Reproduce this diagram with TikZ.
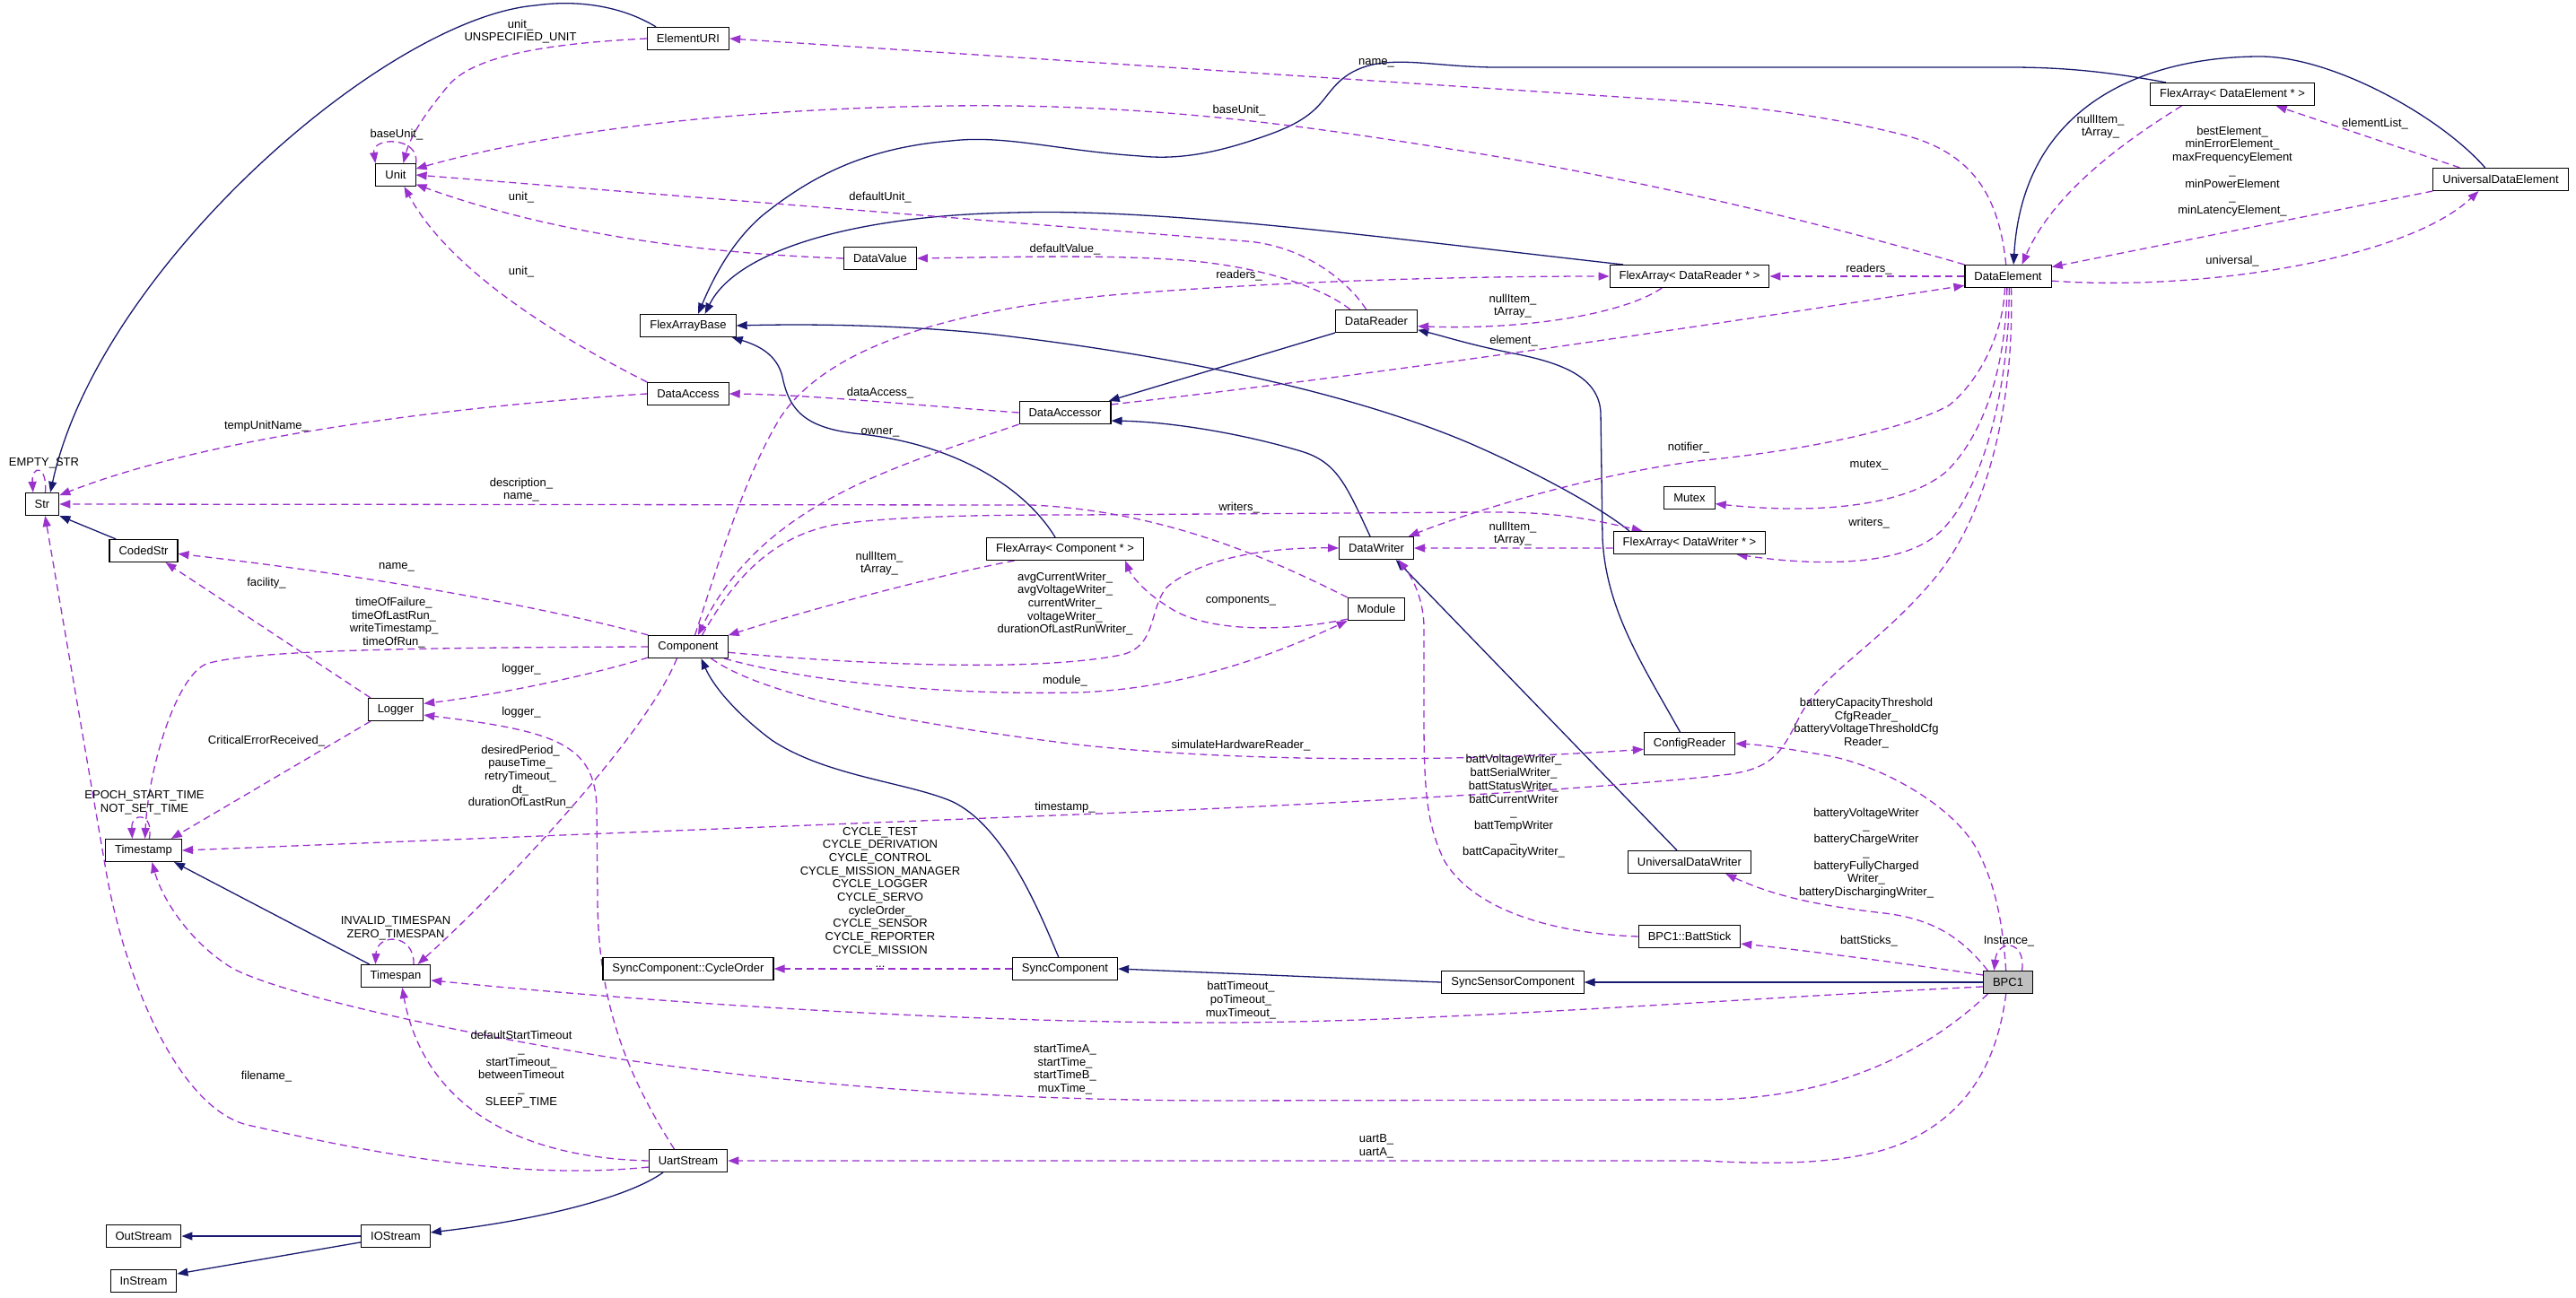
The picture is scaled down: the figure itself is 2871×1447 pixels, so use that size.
\documentclass[tikz,border=0pt]{standalone}
\usepackage{fontspec}
\setmainfont{Liberation Sans}
\usetikzlibrary{arrows.meta}
\definecolor{midnight}{HTML}{191970}
\definecolor{purp}{HTML}{9A32CD}
\definecolor{bpcgray}{HTML}{BFBFBF}
\pgfdeclarelayer{bg}
\pgfsetlayers{bg,main}
\newcommand\lblfont{\fontsize{13}{14.7}\selectfont}
\begin{document}
\begin{tikzpicture}[x=1pt,y=-1pt,
 cls/.style={draw=black,line width=1.1pt,fill=white,minimum height=25pt,inner xsep=10.5pt,inner ysep=0pt,font=\lblfont},
 lab/.style={font=\lblfont,align=center,inner sep=0pt},
 inh/.style={draw=midnight,line width=1.3pt,-{Triangle[length=12pt,width=9pt]}},
 dep/.style={draw=purp,line width=1.3pt,dash pattern=on 8pt off 5pt,-{Triangle[length=12pt,width=9pt]}}]
\useasboundingbox (0,0) rectangle (2871,1447);
\begin{pgfonlayer}{bg}
\fill[white] (0,0) rectangle (2871,1447);
\end{pgfonlayer}
% ---------- nodes ----------
\node[cls] (ElementURI) at (767,43) {ElementURI};
\node[cls] (Unit) at (441,195) {Unit};
\node[cls] (FAB) at (767,363) {FlexArrayBase};
\node[cls] (DataAccess) at (767,439) {DataAccess};
\node[cls] (Str) at (47,562) {Str};
\node[cls] (CodedStr) at (160,614) {CodedStr};
\node[cls] (Component) at (767,721) {Component};
\node[cls] (Logger) at (441,791) {Logger};
\node[cls] (Timestamp) at (160,948) {Timestamp};
\node[cls] (Timespan) at (441,1088) {Timespan};
\node[cls] (CycleOrder) at (767,1080) {SyncComponent::CycleOrder};
\node[cls] (UartStream) at (767,1294) {UartStream};
\node[cls] (OutStream) at (160,1378) {OutStream};
\node[cls] (IOStream) at (441,1378) {IOStream};
\node[cls] (InStream) at (160,1428) {InStream};
\node[cls] (DataValue) at (981,288) {DataValue};
\node[cls] (FADR) at (1883,308) {FlexArray< DataReader * >};
\node[cls] (DataReader) at (1534,358) {DataReader};
\node[cls] (DataAccessor) at (1187,460) {DataAccessor};
\node[cls] (FAC) at (1187,612) {FlexArray< Component * >};
\node[cls] (DataWriter) at (1534,611) {DataWriter};
\node[cls] (Mutex) at (1883,555) {Mutex};
\node[cls] (FADW) at (1883,605) {FlexArray< DataWriter * >};
\node[cls] (Module) at (1534,679) {Module};
\node[cls] (ConfigReader) at (1883,829) {ConfigReader};
\node[cls] (UDW) at (1883,961) {UniversalDataWriter};
\node[cls] (BattStick) at (1883,1044) {BPC1::BattStick};
\node[cls] (SyncComponent) at (1187,1080) {SyncComponent};
\node[cls] (SSC) at (1686,1095) {SyncSensorComponent};
\node[cls] (FADE) at (2488,105) {FlexArray< DataElement * >};
\node[cls] (UDE) at (2787,200) {UniversalDataElement};
\node[cls] (DataElement) at (2238,308) {DataElement};
\node[cls,fill=bpcgray] (BPC1) at (2238,1095) {BPC1};
% ---------- edges ----------
\begin{pgfonlayer}{bg}
% inheritance
\draw[inh] (ElementURI.160) .. controls (690,5) and (640,0) .. (597,6) .. controls (430,20) and (110,300) .. (Str.55);
\draw[inh] (CodedStr.157) -- (Str.south east);
\draw[inh] (FADR.170) .. controls (1550,266) and (1300,232) .. (1131,237) .. controls (950,240) and (820,280) .. (FAB.35);
\draw[inh] (FADE.170) .. controls (2350,80) and (2300,75) .. (2240,75) -- (1680,75) .. controls (1610,76) and (1570,64) .. (1530,72) .. controls (1495,80) and (1485,100) .. (1472,115) .. controls (1455,135) and (1430,145) .. (1400,155) .. controls (1350,172) and (1310,178) .. (1271,174) .. controls (1180,168) and (1120,150) .. (1060,157) .. controls (960,165) and (900,200) .. (850,240) .. controls (815,270) and (795,310) .. (FAB.50);
\draw[inh] (FADW.169) .. controls (1790,570) and (1720,530) .. (1640,495) .. controls (1500,435) and (1300,395) .. (1100,372) .. controls (1000,362) and (900,361) .. (FAB.east);
\draw[inh] (FAC.130) .. controls (1140,540) and (1060,495) .. (960,484) .. controls (900,478) and (880,460) .. (872,420) .. controls (866,395) and (845,385) .. (FAB.-15);
\draw[inh] (DataReader.south west) -- (DataAccessor.15);
\draw[inh] (DataWriter.118) .. controls (1500,540) and (1490,515) .. (1450,503) .. controls (1380,482) and (1300,470) .. (DataAccessor.-10);
\draw[inh] (ConfigReader.129) .. controls (1830,740) and (1790,680) .. (1786,600) -- (1784,460) .. controls (1782,420) and (1740,405) .. (1692,395) .. controls (1640,385) and (1610,375) .. (DataReader.-12);
\draw[inh] (UDW.137) -- (DataWriter.-31);
\draw[inh] (UDE.143) .. controls (2720,130) and (2600,63) .. (2519,63) .. controls (2400,63) and (2255,110) .. (DataElement.65);
\draw[inh] (SyncComponent.119) .. controls (1160,1020) and (1120,920) .. (1060,893) .. controls (1010,872) and (920,865) .. (860,825) .. controls (820,795) and (795,765) .. (Component.-42);
\draw[inh] (SSC.west) -- (SyncComponent.east);
\draw[inh] (BPC1.west) -- (SSC.east);
\draw[inh] (Timespan.156) -- (Timestamp.-21);
\draw[inh] (UartStream.205) .. controls (700,1335) and (600,1360) .. (IOStream.6);
\draw[inh] (IOStream.west) -- (OutStream.east);
\draw[inh] (IOStream.190) -- (InStream.12);
% usage
\draw[dep] (ElementURI.west) .. controls (620,48) and (530,60) .. (500,95) .. controls (475,125) and (458,150) .. (Unit.57);
\draw[dep] (Unit.north east) .. controls (468,152) and (414,152) .. (Unit.north west);
\draw[dep] (DataElement.165) .. controls (2000,240) and (1800,195) .. (1622,167) .. controls (1480,145) and (1300,115) .. (1060,118) .. controls (800,121) and (600,150) .. (Unit.17);
\draw[dep] (DataReader.131) .. controls (1500,310) and (1450,274) .. (1390,269) -- (Unit.east);
\draw[dep] (DataValue.west) .. controls (760,282) and (600,255) .. (Unit.-25);
\draw[dep] (DataAccess.north west) .. controls (620,375) and (500,300) .. (Unit.-54);
\draw[dep] (DataAccess.west) .. controls (550,450) and (250,480) .. (Str.27);
\draw[dep] (Str.75) .. controls (53,518) and (35,518) .. (Str.128);
\draw[dep] (Module.north west) .. controls (1420,625) and (1300,570) .. (1150,563) -- (Str.east);
\draw[dep] (Component.north west) .. controls (600,675) and (400,640) .. (CodedStr.-5);
\draw[dep] (Logger.155) -- (CodedStr.-28);
\draw[dep] (Component.west) .. controls (450,722) and (280,725) .. (230,740) .. controls (195,755) and (165,860) .. (Timestamp.83);
\draw[dep] (Timestamp.64) .. controls (172,905) and (146,905) .. (Timestamp.134);
\draw[dep] (Component.195) .. controls (650,755) and (550,775) .. (Logger.12);
\draw[dep] (UartStream.140) .. controls (700,1200) and (666,1120) .. (666,1000) -- (665,900) .. controls (663,830) and (620,815) .. (Logger.-11);
\draw[dep] (Logger.205) -- (Timestamp.23);
\draw[dep] (Component.226) .. controls (720,820) and (560,990) .. (Timespan.28);
\draw[dep] (Timespan.33) .. controls (462,1040) and (420,1040) .. (Timespan.150);
\draw[dep] (BPC1.190) .. controls (1900,1115) and (1600,1140) .. (1350,1140) .. controls (1050,1140) and (700,1115) .. (Timespan.-7);
\draw[dep] (BPC1.210) .. controls (2150,1170) and (2050,1225) .. (1900,1226) -- (1350,1227) .. controls (1100,1226) and (900,1210) .. (700,1182) .. controls (500,1150) and (320,1110) .. (260,1080) .. controls (210,1050) and (180,1000) .. (Timestamp.-54);
\draw[dep] (BPC1.260) .. controls (2225,1190) and (2190,1240) .. (2130,1270) .. controls (2080,1295) and (2000,1300) .. (1900,1294) -- (UartStream.east);
\draw[dep] (UartStream.189) .. controls (560,1318) and (380,1277) .. (280,1255) .. controls (200,1240) and (138.5,1090) .. (118,970) -- (Str.-76);
\draw[dep] (UartStream.west) .. controls (560,1290) and (470,1220) .. (Timespan.-61);
\draw[dep] (SyncComponent.west) -- (CycleOrder.east);
\draw[dep] (DataElement.100) .. controls (2228,220) and (2200,170) .. (2120,150) .. controls (2040,130) and (1950,118) .. (1850,111) -- (ElementURI.east);
\draw[dep] (DataReader.156) .. controls (1480,325) and (1420,300) .. (1330,291) .. controls (1250,284) and (1150,286) .. (DataValue.east);
\draw[dep] (Component.60) .. controls (800,630) and (830,530) .. (870,465) .. controls (920,390) and (1050,345) .. (1250,328) .. controls (1450,312) and (1650,308) .. (FADR.west);
\draw[dep] (DataAccessor.south west) .. controls (1000,520) and (850,560) .. (Component.50);
\draw[dep] (Component.40) .. controls (810,660) and (850,600) .. (930,585) .. controls (1000,575) and (1100,574) .. (1200,574) -- (1650,571) .. controls (1730,570) and (1770,578) .. (FADW.166);
\draw[dep] (FAC.193) .. controls (1050,640) and (900,680) .. (Component.16);
\draw[dep] (Module.199) .. controls (1430,705) and (1340,705) .. (1300,675) .. controls (1275,660) and (1260,640) .. (FAC.-11);
\draw[dep] (Component.-8) .. controls (950,740) and (1150,750) .. (1250,730) .. controls (1290,720) and (1280,680) .. (1300,655) .. controls (1340,620) and (1420,610) .. (DataWriter.west);
\draw[dep] (Component.-18) .. controls (900,760) and (1050,775) .. (1200,772) .. controls (1320,768) and (1420,730) .. (Module.202);
\draw[dep] (Component.-27) .. controls (850,775) and (1000,805) .. (1200,830) .. controls (1400,852) and (1650,848) .. (ConfigReader.187);
\draw[dep] (DataElement.255) .. controls (2232,380) and (2200,430) .. (2172,452) .. controls (2130,475) and (2030,500) .. (1900,513) .. controls (1780,527) and (1640,570) .. (DataWriter.20);
\draw[dep] (DataElement.265) .. controls (2236,400) and (2215,480) .. (2170,525) .. controls (2130,560) and (2040,575) .. (Mutex.-13);
\draw[dep] (DataElement.275) .. controls (2240,430) and (2210,550) .. (2160,595) .. controls (2120,630) and (2030,632) .. (FADW.-14);
\draw[dep] (DataElement.285) .. controls (2245,450) and (2215,570) .. (2160,640) .. controls (2100,715) and (2030,750) .. (2005,800) .. controls (1985,840) and (1975,858) .. (1920,864) .. controls (1800,878) and (1500,896) .. (1200,908) -- (Timestamp.east);
\draw[dep] (DataAccessor.10) .. controls (1600,410) and (1950,355) .. (DataElement.192);
\draw[dep] (DataElement.west) -- (FADR.east);
\draw[dep] (DataElement.-6) .. controls (2450,325) and (2680,290) .. (UDE.208);
\draw[dep] (UDE.south west) -- (DataElement.12);
\draw[dep] (UDE.164) -- (FADE.-15);
\draw[dep] (FADE.193) .. controls (2380,150) and (2290,210) .. (DataElement.40);
\draw[dep] (FADR.203) .. controls (1810,350) and (1700,368) .. (DataReader.-7);
\draw[dep] (FADW.184) -- (DataWriter.east);
\draw[dep] (DataAccessor.west) .. controls (1000,450) and (900,440) .. (DataAccess.east);
\draw[dep] (BPC1.100) .. controls (2232,1030) and (2225,990) .. (2205,950) .. controls (2180,900) and (2100,855) .. (2040,843) .. controls (1990,834) and (1960,830) .. (ConfigReader.east);
\draw[dep] (BPC1.150) .. controls (2190,1050) and (2160,1025) .. (2100,1018) .. controls (2030,1010) and (1980,1000) .. (UDW.-18);
\draw[dep] (BPC1.164) .. controls (2130,1075) and (2000,1058) .. (BattStick.-8);
\draw[dep] (BattStick.west) .. controls (1720,1040) and (1640,1010) .. (1610,960) .. controls (1590,920) and (1587,880) .. (1587,800) -- (1587,700) .. controls (1587,670) and (1575,645) .. (DataWriter.-28);
\draw[dep] (BPC1.40) .. controls (2258,1047) and (2226,1047) .. (BPC1.140);
\end{pgfonlayer}
% ---------- labels ----------
\node[lab] (l1) at (580,35) {unit\_\\UNSPECIFIED\_UNIT};
\node[lab] (l2) at (442,150) {baseUnit\_};
\node[lab] (l3) at (581,220) {unit\_};
\node[lab] (l4) at (581,303) {unit\_};
\node[lab] (l5) at (297,475) {tempUnitName\_};
\node[lab] (l6) at (49,516) {EMPTY\_STR};
\node[lab] (l7) at (581,546) {description\_\\name\_};
\node[lab] (l8) at (442,632) {name\_};
\node[lab] (l9) at (297,650) {facility\_};
\node[lab] (l10) at (439,694) {timeOfFailure\_\\timeOfLastRun\_\\writeTimestamp\_\\timeOfRun\_};
\node[lab] (l11) at (581,746) {logger\_};
\node[lab] (l12) at (581,794) {logger\_};
\node[lab] (l13) at (297,826) {CriticalErrorReceived\_};
\node[lab] (l14) at (580,866) {desiredPeriod\_\\pauseTime\_\\retryTimeout\_\\dt\_\\durationOfLastRun\_};
\node[lab] (l15) at (161,895) {EPOCH\_START\_TIME\\NOT\_SET\_TIME};
\node[lab] (l16) at (441,1035) {INVALID\_TIMESPAN\\ZERO\_TIMESPAN};
\node[lab] (l17) at (581,1192) {defaultStartTimeout\\\_\\startTimeout\_\\betweenTimeout\\\_\\SLEEP\_TIME};
\node[lab] (l18) at (297,1200) {filename\_};
\node[lab] (l19) at (981,220) {defaultUnit\_};
\node[lab] (l20) at (1187,278) {defaultValue\_};
\node[lab] (l21) at (1381,307) {readers\_};
\node[lab] (l22) at (1686,341) {nullItem\_\\tArray\_};
\node[lab] (l23) at (1687,380) {element\_};
\node[lab] (l24) at (981,438) {dataAccess\_};
\node[lab] (l25) at (981,482) {owner\_};
\node[lab] (l26) at (1882,499) {notifier\_};
\node[lab] (l27) at (1381,566) {writers\_};
\node[lab] (l28) at (1686,595) {nullItem\_\\tArray\_};
\node[lab] (l29) at (980,628) {nullItem\_\\tArray\_};
\node[lab] (l30) at (1187,673) {avgCurrentWriter\_\\avgVoltageWriter\_\\currentWriter\_\\voltageWriter\_\\durationOfLastRunWriter\_};
\node[lab] (l31) at (1383,670) {components\_};
\node[lab] (l32) at (1187,759) {module\_};
\node[lab] (l33) at (1383,831) {simulateHardwareReader\_};
\node[lab] (l34) at (1687,899) {battVoltageWriter\_\\battSerialWriter\_\\battStatusWriter\_\\battCurrentWriter\\\_\\battTempWriter\\\_\\battCapacityWriter\_};
\node[lab] (l35) at (1187,900) {timestamp\_};
\node[lab] (l36) at (981,1000) {CYCLE\_TEST\\CYCLE\_DERIVATION\\CYCLE\_CONTROL\\CYCLE\_MISSION\_MANAGER\\CYCLE\_LOGGER\\CYCLE\_SERVO\\cycleOrder\_\\CYCLE\_SENSOR\\CYCLE\_REPORTER\\CYCLE\_MISSION\\...};
\node[lab] (l37) at (1383,1115) {battTimeout\_\\poTimeout\_\\muxTimeout\_};
\node[lab] (l38) at (1187,1192) {startTimeA\_\\startTime\_\\startTimeB\_\\muxTime\_};
\node[lab] (l39) at (1534,1278) {uartB\_\\uartA\_};
\node[lab] (l40) at (1534,70) {name\_};
\node[lab] (l41) at (1381,123) {baseUnit\_};
\node[lab] (l42) at (2341,141) {nullItem\_\\tArray\_};
\node[lab] (l43) at (2488,191) {bestElement\_\\minErrorElement\_\\maxFrequencyElement\\\_\\minPowerElement\\\_\\minLatencyElement\_};
\node[lab] (l44) at (2647,138) {elementList\_};
\node[lab] (l45) at (2488,291) {universal\_};
\node[lab] (l46) at (2083,300) {readers\_};
\node[lab] (l47) at (2083,519) {mutex\_};
\node[lab] (l48) at (2083,583) {writers\_};
\node[lab] (l49) at (2080,806) {batteryCapacityThreshold\\CfgReader\_\\batteryVoltageThresholdCfg\\Reader\_};
\node[lab] (l50) at (2080,951) {batteryVoltageWriter\\\_\\batteryChargeWriter\\\_\\batteryFullyCharged\\Writer\_\\batteryDischargingWriter\_};
\node[lab] (l51) at (2083,1049) {battSticks\_};
\node[lab] (l52) at (2239,1049) {Instance\_};
\end{tikzpicture}
\end{document}
